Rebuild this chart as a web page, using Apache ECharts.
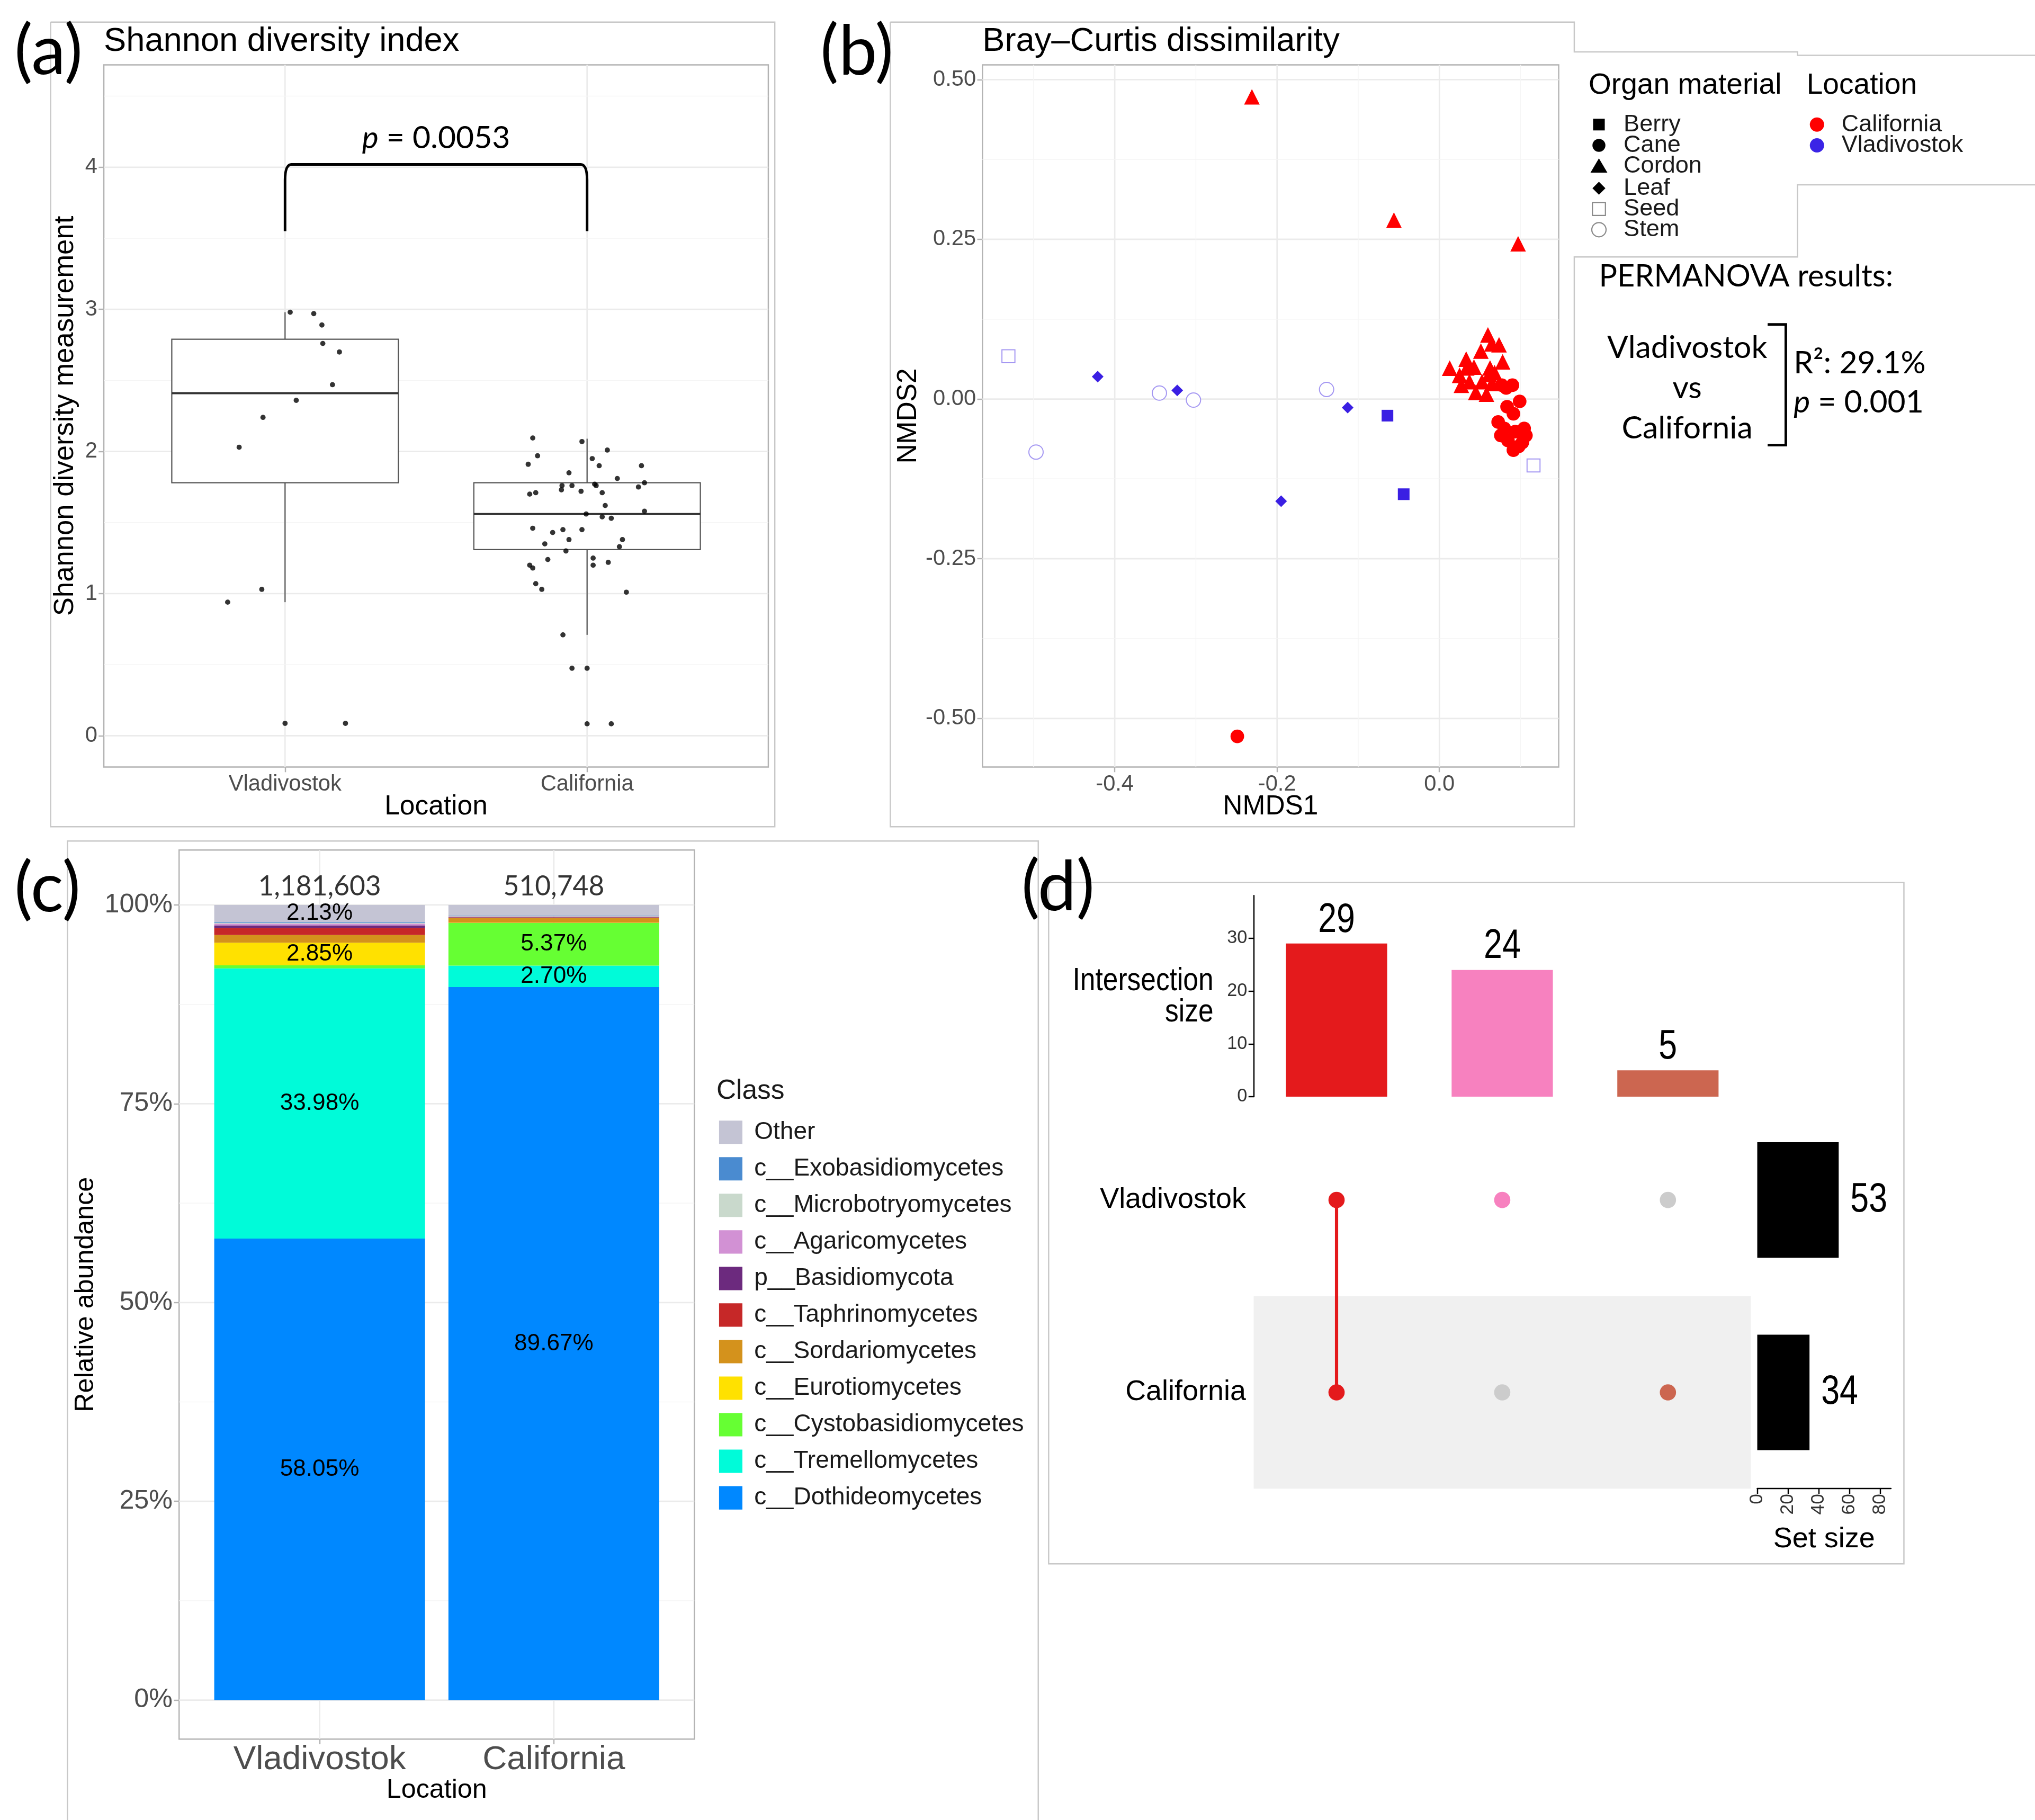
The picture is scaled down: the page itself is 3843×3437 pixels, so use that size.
<!DOCTYPE html>
<html><head><meta charset="utf-8">
<script src="https://cdn.jsdelivr.net/npm/echarts@6/dist/echarts.min.js"></script>
<style>html,body{margin:0;padding:0;background:#fff}#c{width:3843px;height:3437px}</style>
</head><body><div id="c"></div>
<script>
// ================= DATA =================
const locations = ['Vladivostok', 'California'];

// (a) Shannon diversity: box stats [lowerWhisker, Q1, median, Q3, upperWhisker]
const shannonBoxVlad = [0.94, 1.78, 2.41, 2.79, 2.98];
const shannonBoxCal = [0.71, 1.31, 1.56, 1.78, 2.09];
// samples: [jitter offset, Shannon value]
const shannonVlad = [[0.017,2.98],[0.095,2.97],[0.122,2.89],[0.125,2.76],[0.18,2.70],[0.157,2.47],[0.037,2.36],[-0.073,2.24],[-0.152,2.03],[-0.077,1.03],[-0.19,0.94],[0.0,0.087],[0.2,0.087]];
const shannonCal = [[-0.18,2.095],[-0.017,2.07],[-0.164,1.97],[0.017,1.95],[0.067,2.01],[-0.195,1.91],[0.04,1.90],[0.18,1.90],[-0.06,1.85],[0.1,1.81],[-0.083,1.76],[-0.05,1.76],[-0.085,1.73],[-0.02,1.72],[0.025,1.77],[0.03,1.76],[0.05,1.71],[0.17,1.75],[0.19,1.78],[-0.19,1.70],[-0.17,1.71],[0.06,1.62],[-0.003,1.56],[0.05,1.54],[0.08,1.53],[0.19,1.58],[-0.18,1.46],[-0.08,1.45],[-0.114,1.43],[-0.017,1.45],[-0.06,1.38],[-0.14,1.35],[0.117,1.38],[0.107,1.33],[-0.07,1.30],[-0.13,1.24],[0.02,1.25],[-0.19,1.20],[-0.18,1.18],[0.02,1.20],[0.07,1.22],[-0.17,1.07],[-0.15,1.03],[0.13,1.01],[-0.08,0.71],[-0.05,0.475],[0.0,0.475],[0.0,0.084],[0.08,0.084]];
const shannonTicks = [0, 1, 2, 3, 4];
const shannonMinor = [0.5, 1.5, 2.5, 3.5, 4.5];
const shannonBracket = [1, 2, 3.55, 4.02]; // from, to, low end, top
const shannonPText = '0.0053';

// (b) NMDS coordinates [NMDS1, NMDS2]
const berryVlad = [[-0.064,-0.026],[-0.044,-0.149]];
const caneCal = [[-0.249,-0.528],[0.090,0.0216],[0.0823,0.0174],[0.0768,0.0216],[0.0989,-0.0037],[0.0834,-0.012],[0.0912,-0.023],[0.0724,-0.036],[0.080,-0.046],[0.1044,-0.046],[0.0934,-0.051],[0.1066,-0.057],[0.0757,-0.057],[0.0845,-0.065],[0.1022,-0.068],[0.0912,-0.080],[0.0978,-0.074]];
const cordonCal = [[-0.231,0.473],[-0.056,0.280],[0.097,0.243],[0.0598,0.1003],[0.0735,0.0849],[0.0646,0.0863],[0.0511,0.0750],[0.0330,0.0624],[0.0779,0.0582],[0.0127,0.0483],[0.0337,0.0486],[0.0624,0.0486],[0.0426,0.0500],[0.0249,0.0371],[0.0613,0.0385],[0.0680,0.0413],[0.0271,0.0216],[0.0448,0.0104],[0.0580,0.0076],[0.0370,0.0272],[0.0646,0.0244],[0.0525,0.0272]];
const leafVlad = [[-0.421,0.035],[-0.323,0.0135],[-0.113,-0.0135],[-0.195,-0.160]];
const seedVlad = [[-0.531,0.067],[0.116,-0.104]];
const stemVlad = [[-0.497,-0.083],[-0.345,0.0093],[-0.303,-0.0017],[-0.139,0.015]];
const nmds1Ticks = [-0.4, -0.2, 0.0];
const nmds1Minor = [-0.5, -0.3, -0.1, 0.1];
const nmds2Ticks = [-0.5, -0.25, 0, 0.25, 0.5];
const nmds2Minor = [-0.375, -0.125, 0.125, 0.375];
const organNames = ['Berry', 'Cane', 'Cordon', 'Leaf', 'Seed', 'Stem'];
const permR2 = '29.1%';
const permP = '0.001';

// (c) relative abundance (%), stacked bottom -> top
const classNames = ['c__Dothideomycetes','c__Tremellomycetes','c__Cystobasidiomycetes','c__Eurotiomycetes','c__Sordariomycetes','c__Taphrinomycetes','p__Basidiomycota','c__Agaricomycetes','c__Microbotryomycetes','c__Exobasidiomycetes','Other'];
const abundVlad = [58.05, 33.98, 0.38, 2.85, 0.95, 0.89, 0.33, 0.22, 0.12, 0.10, 2.13];
const abundCal = [89.67, 2.70, 5.37, 0.02, 0.59, 0.08, 0.08, 0.03, 0.05, 0.05, 1.36];
const classColors = ['#0088ff','#00fbd9','#66ff33','#ffe100','#d4921c','#c62828','#6c2a7e','#d291d4','#c9d9cc','#4a8bd0','#c4c4d4'];
const readTotals = [1181603, 510748];
const abundTicks = [0, 25, 50, 75, 100];
const abundMinor = [12.5, 37.5, 62.5, 87.5];

// (d) UpSet
const intersectionIds = ['Vladivostok & California', 'Vladivostok only', 'California only'];
const intersectionSizes = [29, 24, 5];
const intersectionColors = ['#e41a1c', '#f781bf', '#cc6650'];
const setRows = ['California', 'Vladivostok'];          // bottom -> top
const setSizes = { Vladivostok: 53, California: 34 };
const membership = [ { Vladivostok: 1, California: 1 }, { Vladivostok: 1, California: 0 }, { Vladivostok: 0, California: 1 } ];
const intersectionTicks = [0, 10, 20, 30];
const setSizeTicks = [0, 20, 40, 60, 80];

// ================= LAYOUT HELPERS =================
const K = 3843 / 1568;
const P = v => v * K;
const SANS = "'Liberation Sans', Arial, sans-serif";
const CAL = "Lato, 'Open Sans', sans-serif";
const NARROW = "'Liberation Sans Narrow', 'Arial Narrow', 'Liberation Sans', sans-serif";
const GRID_BORDER = '#b3b3b3';
const MAJOR = '#ebebeb', MINOR = '#f5f5f5';
const fmtThousands = n => String(n).replace(/\B(?=(\d{3})+(?!\d))/g, ',');

function gridLines(idx, xs, ys, color, width, seed) {
  return {
    type: 'custom', xAxisIndex: idx, yAxisIndex: idx, silent: true, z: 1,
    data: [seed],
    renderItem: (params, api) => {
      const cs = params.coordSys;
      const ch = [];
      xs.forEach(v => {
        const x = api.coord([v, seed[1]])[0];
        ch.push({ type: 'line', shape: { x1: x, y1: cs.y, x2: x, y2: cs.y + cs.height }, style: { stroke: color, lineWidth: width } });
      });
      ys.forEach(v => {
        const y = api.coord([seed[0], v])[1];
        ch.push({ type: 'line', shape: { x1: cs.x, y1: y, x2: cs.x + cs.width, y2: y }, style: { stroke: color, lineWidth: width } });
      });
      return { type: 'group', children: ch };
    }
  };
}

function ggAxis(o) {
  return {
    type: 'value', gridIndex: o.grid, min: o.min, max: o.max,
    axisLine: { show: false, onZero: false },
    axisTick: { show: true, customValues: o.ticks, length: P(4), lineStyle: { color: GRID_BORDER, width: P(1) } },
    axisLabel: { customValues: o.ticks, formatter: o.fmt, color: '#4d4d4d', fontSize: P(o.labelSize || 17), fontFamily: SANS, margin: P(o.margin || 5) },
    splitLine: { show: false },
    name: o.name, nameLocation: 'middle', nameGap: P(o.nameGap), nameMoveOverlap: false,
    nameTextStyle: { color: '#000', fontSize: P(o.nameSize || 21), fontFamily: SANS }
  };
}

const T = (x, y, text, size, o = {}) => Object.assign({
  type: 'text', x: P(x), y: P(y), silent: true,
  style: Object.assign({
    text, fontSize: P(size), fontFamily: o.font || SANS, fill: o.color || '#000',
    align: o.align || 'left', verticalAlign: 'middle', textAlign: o.align || 'left', textVerticalAlign: 'middle'
  }, o.lh ? { lineHeight: P(o.lh) } : {}, o.rich ? { rich: o.rich } : {})
}, o.scaleX ? { scaleX: o.scaleX } : {});
const L = (pts, color, w) => ({
  type: 'polyline', silent: true,
  shape: { points: pts.map(([x, y]) => [P(x), P(y)]) },
  style: { stroke: color || '#c8c8c8', lineWidth: P(w || 1), fill: null }
});

// ================= PANEL (b) legend graphics =================
const legY = [96, 112, 128, 145, 161, 177];
const lx = 1232;
const legendShapes = [
  { type: 'rect', shape: { x: P(lx - 4.5), y: P(legY[0] - 4.5), width: P(9), height: P(9) }, style: { fill: '#000' } },
  { type: 'circle', shape: { cx: P(lx), cy: P(legY[1]), r: P(5) }, style: { fill: '#000' } },
  { type: 'polygon', shape: { points: [[P(lx), P(legY[2] - 6)], [P(lx - 6.5), P(legY[2] + 5)], [P(lx + 6.5), P(legY[2] + 5)]] }, style: { fill: '#000' } },
  { type: 'polygon', shape: { points: [[P(lx), P(legY[3] - 5)], [P(lx + 5), P(legY[3])], [P(lx), P(legY[3] + 5)], [P(lx - 5), P(legY[3])]] }, style: { fill: '#000' } },
  { type: 'rect', shape: { x: P(lx - 5), y: P(legY[4] - 5), width: P(10), height: P(10) }, style: { fill: '#fff', stroke: '#8a8a8a', lineWidth: P(0.9) } },
  { type: 'circle', shape: { cx: P(lx), cy: P(legY[5]), r: P(5.5) }, style: { fill: '#fff', stroke: '#8a8a8a', lineWidth: P(0.9) } }
];

const italicP = size => ({ i: { fontStyle: 'italic', fontSize: P(size), fontFamily: CAL, fill: '#000' } });

const graphics = [
  // panel frames
  L([[39,17],[597,17],[597,637],[39,637],[39,17]]),
  L([[686,17],[1213,17],[1213,40],[1385,40],[1385,42.6],[1568,42.6]]),
  L([[1568,142.4],[1385,142.4],[1385,198],[1213,198],[1213,637],[686,637],[686,17]]),
  L([[52,1405],[52,648],[800,648],[800,1405]]),
  L([[808,680],[1467,680],[1467,1205],[808,1205],[808,680]]),
  // panel letters
  T(11, 40, '(a)', 53, { font: CAL }),
  T(632, 40, '(b)', 53, { font: CAL }),
  T(11, 685, '(c)', 53, { font: CAL }),
  T(787, 684, '(d)', 53, { font: CAL }),
  // titles
  T(80, 32, 'Shannon diversity index', 25.8),
  T(757, 32, 'Bray\u2013Curtis dissimilarity', 25.8),
  // panel b legend
  T(1224, 66, 'Organ material', 22.5),
  ...legendShapes,
  ...organNames.map((n, i) => T(1251, legY[i], n, 18.4, { color: '#1a1a1a' })),
  T(1392, 66, 'Location', 22.5),
  { type: 'circle', shape: { cx: P(1400), cy: P(96), r: P(5.5) }, style: { fill: '#ff0000' } },
  { type: 'circle', shape: { cx: P(1400), cy: P(112), r: P(5.5) }, style: { fill: '#3b24e6' } },
  T(1419, 96, 'California', 18.3, { color: '#1a1a1a' }),
  T(1419, 112, 'Vladivostok', 18.3, { color: '#1a1a1a' }),
  // PERMANOVA block
  T(1232, 213, 'PERMANOVA results:', 23.5, { font: CAL }),
  T(1300, 268, 'Vladivostok', 24, { font: CAL, align: 'center' }),
  T(1300, 299, 'vs', 24, { font: CAL, align: 'center' }),
  T(1300, 330, 'California', 24, { font: CAL, align: 'center' }),
  L([[1362,250],[1376,250],[1376,343],[1362,343]], '#000', 2),
  T(1382, 280, 'R\u00b2: ' + permR2, 24, { font: CAL }),
  T(1382, 310, '{i|p} = ' + permP, 24, { font: CAL, rich: italicP(24) }),
  // panel c legend title
  T(552, 841, 'Class', 21, { color: '#1a1a1a' }),
  // panel d axis title (condensed)
  T(935, 768, 'Intersection\nsize', 25, { align: 'right', lh: 24, scaleX: 0.84 })
];

// ================= SERIES =================
const series = [];

// ---- (a)
series.push(gridLines(0, [1, 2], shannonTicks, MAJOR, P(1.1), [1, 1]));
series.push(gridLines(0, [], shannonMinor, MINOR, P(0.6), [1, 1]));
series.push({
  type: 'custom', xAxisIndex: 0, yAxisIndex: 0, z: 3, silent: true,
  data: [shannonBoxVlad, shannonBoxCal].map((s, i) => [i + 1, ...s]),
  renderItem: (params, api) => {
    const x = api.value(0);
    const c = v => api.coord([x, v]);
    const [cx, yLo] = c(api.value(1));
    const yQ1 = c(api.value(2))[1], yMed = c(api.value(3))[1], yQ3 = c(api.value(4))[1], yHi = c(api.value(5))[1];
    const hw = api.size([0.75, 0])[0] / 2;
    const st = { stroke: '#555', lineWidth: P(0.9) };
    return { type: 'group', children: [
      { type: 'line', shape: { x1: cx, y1: yQ3, x2: cx, y2: yHi }, style: st },
      { type: 'line', shape: { x1: cx, y1: yQ1, x2: cx, y2: yLo }, style: st },
      { type: 'rect', shape: { x: cx - hw, y: yQ3, width: 2 * hw, height: yQ1 - yQ3 }, style: { fill: '#fff', stroke: '#555', lineWidth: P(0.9) } },
      { type: 'line', shape: { x1: cx - hw, y1: yMed, x2: cx + hw, y2: yMed }, style: { stroke: '#333', lineWidth: P(1.6) } }
    ] };
  }
});
series.push({
  type: 'scatter', xAxisIndex: 0, yAxisIndex: 0, z: 4, symbolSize: P(4), itemStyle: { color: '#000' },
  data: shannonVlad.map(([j, v]) => [1 + j, v]).concat(shannonCal.map(([j, v]) => [2 + j, v]))
});
series.push({
  type: 'custom', xAxisIndex: 0, yAxisIndex: 0, z: 5, silent: true,
  data: [shannonBracket],
  renderItem: (params, api) => {
    const [x1, yLow] = api.coord([api.value(0), api.value(2)]);
    const [x2, yTop] = api.coord([api.value(1), api.value(3)]);
    const rx = P(5), ry = P(12);
    const path = `M${x1},${yLow} L${x1},${yTop + ry} Q${x1},${yTop} ${x1 + rx},${yTop} L${x2 - rx},${yTop} Q${x2},${yTop} ${x2},${yTop + ry} L${x2},${yLow}`;
    const mid = api.coord([(api.value(0) + api.value(1)) / 2, api.value(3)]);
    return { type: 'group', children: [
      { type: 'path', shape: { pathData: path }, style: { stroke: '#000', lineWidth: P(2), fill: null } },
      { type: 'text', x: mid[0], y: mid[1] - P(20), style: { text: '{i|p} = ' + shannonPText, fontSize: P(24), fontFamily: CAL, fill: '#000', align: 'center', verticalAlign: 'middle', rich: italicP(24) } }
    ] };
  }
});

// ---- (b)
series.push(gridLines(1, nmds1Ticks, nmds2Ticks, MAJOR, P(1.1), [0, 0]));
series.push(gridLines(1, nmds1Minor, nmds2Minor, MINOR, P(0.6), [0, 0]));
const BLUE = '#3a1fe3', RED = '#ff0000', LAV = '#a497f2';
const nmdsSeries = [
  ['Stem', stemVlad, 'emptyCircle', P(11), LAV],
  ['Seed', seedVlad, 'emptyRect', P(10), LAV],
  ['Leaf', leafVlad, 'diamond', P(9), BLUE],
  ['Berry', berryVlad, 'rect', P(9), BLUE],
  ['Cane', caneCal, 'circle', P(10.5), RED],
  ['Cordon', cordonCal, 'triangle', P(12), RED]
];
nmdsSeries.forEach(([name, data, symbol, size, color]) => {
  series.push({
    name, type: 'scatter', xAxisIndex: 1, yAxisIndex: 1, z: 4, symbol, symbolSize: size, data,
    itemStyle: symbol.startsWith('empty') ? { color, borderColor: color, borderWidth: P(1.1), opacity: 1 } : { color, opacity: 1 }
  });
});

// ---- (c)
series.push(gridLines(2, [1, 2], abundTicks, MAJOR, P(1.1), [1, 50]));
series.push(gridLines(2, [], abundMinor, MINOR, P(0.6), [1, 50]));
classNames.forEach((name, i) => {
  const data = [abundVlad, abundCal].map((arr, g) => {
    const base = arr.slice(0, i).reduce((a, b) => a + b, 0);
    return [g + 1, base, base + arr[i], arr[i]];
  });
  series.push({
    name, type: 'custom', xAxisIndex: 2, yAxisIndex: 2, z: 3 + i * 0.01, silent: true,
    itemStyle: { color: classColors[i] },
    data,
    renderItem: (params, api) => {
      const x = api.value(0);
      const hw = api.size([0.9, 0])[0] / 2;
      const [cx, y0] = api.coord([x, api.value(1)]);
      const y1 = api.coord([x, api.value(2)])[1];
      const v = api.value(3);
      const ch = [{ type: 'rect', shape: { x: cx - hw, y: y1, width: 2 * hw, height: y0 - y1 }, style: { fill: classColors[i] } }];
      if (v > 2) ch.push({ type: 'text', x: cx, y: (y0 + y1) / 2, z2: 10,
        style: { text: v.toFixed(2) + '%', fontSize: P(18), fontFamily: SANS, fill: '#000', align: 'center', verticalAlign: 'middle' } });
      return { type: 'group', children: ch };
    }
  });
});
series.push({
  type: 'scatter', xAxisIndex: 2, yAxisIndex: 2, z: 5, symbolSize: 1, silent: true,
  itemStyle: { color: 'rgba(0,0,0,0)' },
  label: { show: true, position: 'inside', color: '#000', fontSize: P(21), fontFamily: CAL,
    formatter: p => fmtThousands(readTotals[p.dataIndex]) },
  data: [[1, 102.3], [2, 102.3]]
});

// ---- (d)
const condensedText = (x, y, text, align, vAlign) => ({
  type: 'text', x, y, scaleX: 0.8,
  style: { text, fontSize: P(32), fontFamily: NARROW, fill: '#000', align, verticalAlign: vAlign }
});
series.push({
  type: 'bar', xAxisIndex: 3, yAxisIndex: 3, barWidth: P(78),
  data: intersectionSizes.map((v, i) => ({ value: v, itemStyle: { color: intersectionColors[i] } }))
});
series.push({
  type: 'custom', xAxisIndex: 3, yAxisIndex: 3, z: 4, silent: true,
  data: intersectionSizes.map((v, i) => [i, v]),
  renderItem: (params, api) => {
    const p = api.coord([api.value(0), api.value(1)]);
    return condensedText(p[0], p[1] - P(2), String(api.value(1)), 'center', 'bottom');
  }
});
series.push({
  type: 'custom', xAxisIndex: 4, yAxisIndex: 4, z: 1, silent: true,
  data: setRows.map((r, i) => [0, i]).filter(d => d[1] % 2 === 0),
  renderItem: (params, api) => {
    const cs = params.coordSys;
    const y = api.coord([0, api.value(1)])[1];
    const h = api.size([0, 1])[1];
    return { type: 'rect', shape: { x: cs.x, y: y - h / 2, width: cs.width, height: h }, style: { fill: '#f0f0f0' } };
  }
});
series.push({
  type: 'custom', xAxisIndex: 4, yAxisIndex: 4, z: 2, silent: true,
  data: membership.map((m, i) => {
    const rows = setRows.map((r, j) => (m[r] ? j : -1)).filter(j => j >= 0);
    return [i, Math.min(...rows), Math.max(...rows)];
  }).filter(d => d[2] > d[1]),
  renderItem: (params, api) => {
    const a = api.coord([api.value(0), api.value(1)]);
    const b = api.coord([api.value(0), api.value(2)]);
    return { type: 'line', shape: { x1: a[0], y1: a[1], x2: b[0], y2: b[1] }, style: { stroke: intersectionColors[api.value(0)], lineWidth: P(2.5) } };
  }
});
const dotData = [];
membership.forEach((m, i) => setRows.forEach((r, j) => {
  dotData.push({ value: [i, j], itemStyle: { color: m[r] ? intersectionColors[i] : '#cccccc', opacity: 1 } });
}));
series.push({ type: 'scatter', xAxisIndex: 4, yAxisIndex: 4, z: 3, symbolSize: P(12.5), data: dotData });
series.push({
  type: 'bar', xAxisIndex: 5, yAxisIndex: 5, barWidth: P(89), itemStyle: { color: '#000' },
  data: setRows.map(r => setSizes[r])
});
series.push({
  type: 'custom', xAxisIndex: 5, yAxisIndex: 5, z: 4, silent: true,
  data: setRows.map((r, j) => [setSizes[r], j]),
  renderItem: (params, api) => {
    const p = api.coord([api.value(0), api.value(1)]);
    return condensedText(p[0] + P(9), p[1], String(api.value(0)), 'left', 'middle');
  }
});

// ================= OPTION =================
const gridBox = { show: true, borderColor: GRID_BORDER, borderWidth: P(1), backgroundColor: '#fff', outerBoundsMode: 'none', containLabel: false };
const option = {
  animation: false,
  backgroundColor: '#fff',
  textStyle: { fontFamily: SANS },
  grid: [
    Object.assign({ left: P(80), top: P(50), width: P(512), height: P(541) }, gridBox),
    Object.assign({ left: P(757), top: P(50), width: P(444), height: P(541) }, gridBox),
    Object.assign({ left: P(138), top: P(655), width: P(397), height: P(685) }, gridBox),
    { left: P(966), top: P(690), width: P(383), height: P(155), outerBoundsMode: 'none' },
    { left: P(966), top: P(850.5), width: P(383), height: P(296.5), outerBoundsMode: 'none' },
    { left: P(1354), top: P(850.5), width: P(103), height: P(296.5), outerBoundsMode: 'none' }
  ],
  xAxis: [
    ggAxis({ grid: 0, min: 0.4, max: 2.6, ticks: [1, 2], fmt: v => locations[Math.round(v) - 1], name: 'Location', nameGap: 20.5, margin: 5 }),
    ggAxis({ grid: 1, min: -0.563, max: 0.147, ticks: nmds1Ticks, fmt: v => v.toFixed(1), name: 'NMDS1', nameGap: 20.5, margin: 5 }),
    ggAxis({ grid: 2, min: 0.4, max: 2.6, ticks: [1, 2], fmt: v => locations[Math.round(v) - 1], name: 'Location', nameGap: 29.5, margin: 3, labelSize: 26, nameSize: 20.5 }),
    { type: 'category', gridIndex: 3, data: intersectionIds, show: false },
    { type: 'category', gridIndex: 4, data: intersectionIds, show: false },
    { type: 'value', gridIndex: 5, min: 0, max: 87,
      axisLine: { show: true, onZero: false, lineStyle: { color: '#000', width: P(1) } },
      axisTick: { show: true, customValues: setSizeTicks, length: P(4), lineStyle: { color: '#000', width: P(1) } },
      axisLabel: { customValues: setSizeTicks, rotate: 90, fontSize: P(14.5), color: '#333', fontFamily: NARROW, margin: P(4) },
      splitLine: { show: false },
      name: 'Set size', nameLocation: 'middle', nameGap: P(28), nameMoveOverlap: false,
      nameTextStyle: { fontSize: P(22), color: '#000', fontFamily: NARROW } }
  ],
  yAxis: [
    ggAxis({ grid: 0, min: -0.22, max: 4.72, ticks: shannonTicks, fmt: v => String(v), name: 'Shannon diversity measurement', nameGap: 19, nameSize: 21.5 }),
    ggAxis({ grid: 1, min: -0.576, max: 0.523, ticks: nmds2Ticks, fmt: v => v.toFixed(2), name: 'NMDS2', nameGap: 46.5 }),
    ggAxis({ grid: 2, min: -4.9, max: 106.9, ticks: abundTicks, fmt: v => v + '%', name: 'Relative abundance', nameGap: 61.5, labelSize: 20.5, nameSize: 20.5 }),
    { type: 'value', gridIndex: 3, min: 0, max: 38.1,
      axisLine: { show: true, onZero: false, lineStyle: { color: '#000', width: P(1) } },
      axisTick: { show: true, customValues: intersectionTicks, length: P(4), lineStyle: { color: '#000', width: P(1) } },
      axisLabel: { customValues: intersectionTicks, fontSize: P(14), color: '#333', fontFamily: NARROW, margin: P(5) },
      splitLine: { show: false } },
    { type: 'category', gridIndex: 4, data: setRows,
      axisLine: { show: false }, axisTick: { show: false },
      axisLabel: { fontSize: P(22), color: '#000', fontFamily: NARROW, margin: P(6) } },
    { type: 'category', gridIndex: 5, data: setRows, show: false }
  ],
  legend: [{
    data: classNames.slice().reverse(), orient: 'vertical', left: P(552), top: P(861),
    itemWidth: P(18), itemHeight: P(18), itemGap: P(9.4), icon: 'rect', selectedMode: false,
    textStyle: { fontSize: P(18.8), color: '#1a1a1a', fontFamily: SANS, padding: [0, 0, 0, P(7)], lineHeight: P(18) }
  }],
  graphic: { elements: graphics },
  series
};

const chart = echarts.init(document.getElementById('c'), null, { renderer: 'canvas' });
chart.setOption(option);
</script>
</body></html>
